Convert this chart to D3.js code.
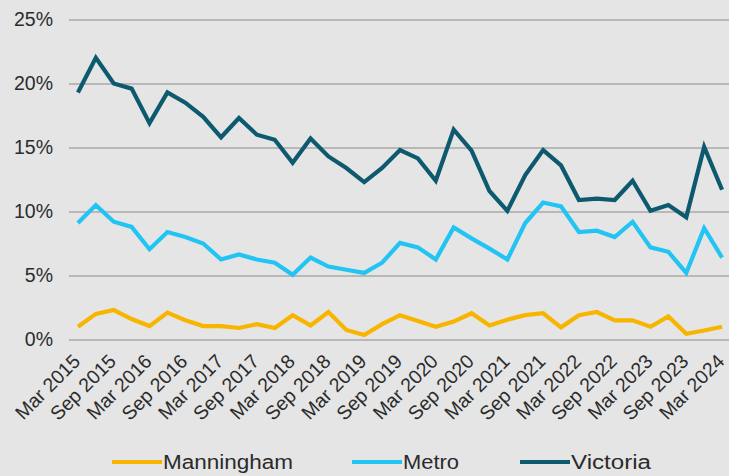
<!DOCTYPE html>
<html>
<head>
<meta charset="utf-8">
<script src="https://cdn.jsdelivr.net/npm/d3@7"></script>
<style>
  html, body { margin: 0; padding: 0; background: #e5e5e5; }
  svg { display: block; font-family: "Liberation Sans", Arial, sans-serif; }
</style>
</head>
<body>
<svg id="chart" width="729" height="476"></svg>
<script>
// Quarterly periods, Mar 2015 – Mar 2024
const quarters = [
  "Mar 2015","Jun 2015","Sep 2015","Dec 2015",
  "Mar 2016","Jun 2016","Sep 2016","Dec 2016",
  "Mar 2017","Jun 2017","Sep 2017","Dec 2017",
  "Mar 2018","Jun 2018","Sep 2018","Dec 2018",
  "Mar 2019","Jun 2019","Sep 2019","Dec 2019",
  "Mar 2020","Jun 2020","Sep 2020","Dec 2020",
  "Mar 2021","Jun 2021","Sep 2021","Dec 2021",
  "Mar 2022","Jun 2022","Sep 2022","Dec 2022",
  "Mar 2023","Jun 2023","Sep 2023","Dec 2023",
  "Mar 2024"
];

// Series values (%)
const manningham = [
  1.0, 2.0, 2.3, 1.6, 1.05, 2.1, 1.5, 1.05, 1.05, 0.9,
  1.2, 0.9, 1.9, 1.1, 2.15, 0.75, 0.35, 1.2, 1.9, 1.45,
  1.0, 1.4, 2.05, 1.1, 1.55, 1.9, 2.05, 0.95, 1.9, 2.15,
  1.5, 1.5, 1.0, 1.8, 0.45, 0.7, 1.0
];
const metro = [
  9.1, 10.5, 9.2, 8.8, 7.05, 8.4, 8.0, 7.5, 6.25, 6.65,
  6.25, 6.0, 5.05, 6.4, 5.7, 5.45, 5.2, 6.0, 7.55, 7.2,
  6.25, 8.75, 7.9, 7.1, 6.25, 9.1, 10.7, 10.4, 8.4, 8.5,
  8.0, 9.2, 7.2, 6.85, 5.2, 8.7, 6.4
];
const victoria = [
  19.3, 22.0, 20.0, 19.6, 16.9, 19.3, 18.5, 17.4, 15.8, 17.3,
  16.0, 15.6, 13.8, 15.7, 14.3, 13.4, 12.3, 13.4, 14.8, 14.15,
  12.4, 16.4, 14.75, 11.6, 10.05, 12.85, 14.8, 13.6, 10.9, 11.0,
  10.9, 12.4, 10.05, 10.5, 9.55, 15.05, 11.7
];

// Axis ticks
const yTicks = [0, 5, 10, 15, 20, 25];
const xTickLabels = quarters.filter((q, i) => i % 2 === 0);

const series = [
  { name: "Manningham", values: manningham, color: "#f7b500" },
  { name: "Metro",      values: metro,      color: "#22c4f4" },
  { name: "Victoria",   values: victoria,   color: "#0d5a6f" }
];

const svg = d3.select("#chart");
const W = 729, H = 476;
const plot = { left: 69, right: 731, top: 19.5, bottom: 339.5 };

svg.append("rect").attr("width", W).attr("height", H).attr("fill", "#e5e5e5");

const x = d3.scalePoint()
  .domain(quarters)
  .range([plot.left, plot.right])
  .padding(0.5);

const y = d3.scaleLinear()
  .domain([0, 25])
  .range([plot.bottom, plot.top]);

// Horizontal gridlines and y-axis labels
const yAxis = d3.axisLeft(y)
  .tickValues(yTicks)
  .tickSize(-(plot.right - plot.left))
  .tickPadding(16)
  .tickFormat(d => d + "%");

const gy = svg.append("g")
  .attr("transform", `translate(${plot.left},0)`)
  .call(yAxis);
gy.select(".domain").remove();
gy.selectAll(".tick line")
  .attr("stroke", "#a8a8a8")
  .attr("stroke-width", 1.6);
gy.selectAll(".tick text")
  .attr("fill", "#2b2b2b")
  .attr("font-size", 19.5)
  .attr("x", -16);

// X-axis category labels, rotated
const xAxis = d3.axisBottom(x)
  .tickValues(xTickLabels)
  .tickSize(0)
  .tickPadding(0);

const gx = svg.append("g")
  .attr("transform", `translate(0,${plot.bottom})`)
  .call(xAxis);
gx.select(".domain").remove();
gx.selectAll(".tick text")
  .attr("fill", "#2b2b2b")
  .attr("font-size", 19.5)
  .attr("text-anchor", "end")
  .attr("dy", null)
  .attr("y", 0)
  .attr("transform", "translate(3,23) rotate(-45)");

// Series lines
const line = d3.line()
  .x((d, i) => x(quarters[i]))
  .y(d => y(d))
  .curve(d3.curveLinear);

svg.append("g")
  .selectAll("path")
  .data(series)
  .join("path")
  .attr("d", d => line(d.values))
  .attr("fill", "none")
  .attr("stroke", d => d.color)
  .attr("stroke-width", 4.2)
  .attr("stroke-linejoin", "miter")
  .attr("stroke-linecap", "butt");

// Legend
const legendItems = [
  { name: "Manningham", x: 112, len: 130 },
  { name: "Metro",      x: 352, len: 56 },
  { name: "Victoria",   x: 520, len: 80 }
];
const legendY = 462;
const lg = svg.append("g");
legendItems.forEach(item => {
  const s = series.find(d => d.name === item.name);
  lg.append("line")
    .attr("x1", item.x).attr("x2", item.x + 50)
    .attr("y1", legendY).attr("y2", legendY)
    .attr("stroke", s.color)
    .attr("stroke-width", 4.2);
  lg.append("text")
    .attr("x", item.x + 51)
    .attr("y", legendY)
    .attr("dy", "0.36em")
    .attr("font-size", 20)
    .attr("fill", "#2b2b2b")
    .attr("textLength", item.len)
    .attr("lengthAdjust", "spacingAndGlyphs")
    .text(item.name);
});
</script>
</body>
</html>
